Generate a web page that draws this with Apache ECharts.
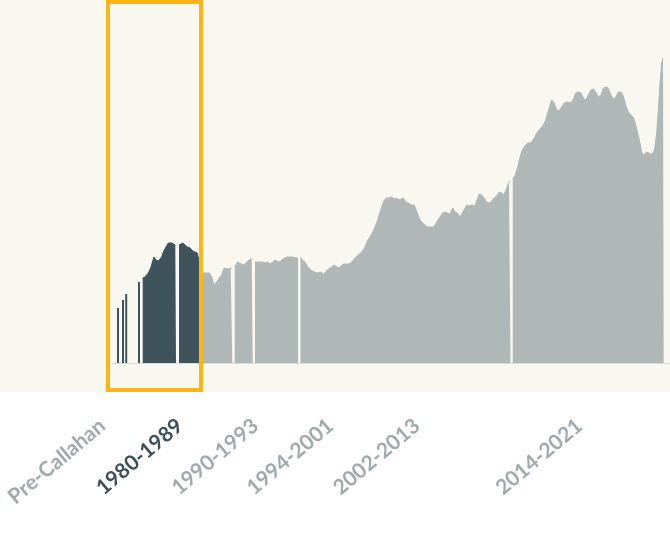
<!DOCTYPE html>
<html>
<head>
<meta charset="utf-8">
<script src="https://cdn.jsdelivr.net/npm/echarts@6/dist/echarts.min.js"></script>
<style>
  html, body { margin: 0; padding: 0; background: #ffffff; }
  #chart { width: 670px; height: 537px; }
</style>
</head>
<body>
<div id="chart"></div>
<script>
// ---- Data (x = position along the timeline, y = value) ----
// Isolated early observations (drawn as thin bars)
const spikeX = [6, 11, 14.2, 27];
const spikeY = [55, 63, 69, 81];

// 1980-1989 era (highlighted); null = gap
const darkX = [30.7, 33, 36.3, 38.7, 40.7, 42, 44, 46.3, 48, 49.7, 51.3, 54, 56.3, 58, 59.7, 61.3, 63.3, 64, null,
  67, 68.7, 70.7, 73, 75.3, 78, 80.7, 83, 85.3, 86.7, 88];
const darkY = [85, 86, 90, 95, 102, 106, 103, 102, 101, 106, 111, 116, 120, 122, 120, 119, 118, 118, null,
  118, 120, 120, 118, 116, 115, 112, 111, 110, 103, 98];

// 1990 onward
const grayX = [89, 91.3, 93, 95.3, 97.5, 99.7, 102, 104.7, 107.3, 109.7, 112, 114, 116.3, 118.7, 120.3, null,
  122.7, 125.3, 127.3, 129.7, 132, 134.7, 137.3, 139.7, 140.7, null,
  143, 145.3, 148, 150.7, 153, 155.3, 158, 160.7, 163, 165.3, 168, 170.7, 173, 175.3, 178, 180.7, 183, 186, null,
  188.5, 190.3, 193, 195.7, 199, 202.3, 205.7, 209, 211.3, 213.7, 216.3, 219.7, 222.3, 224.7, 227, 229.7,
  232.3, 234.7, 237, 239.7, 243, 246.3, 249.7, 253, 255.7, 258, 260.3, 263, 265.7, 268, 270.3, 272.3,
  274.7, 277, 279.7, 282.3, 284.7, 287, 289, 291.3, 293.7, 296.3, 299.7, 302.3, 305.3, 308, 310.7, 314,
  316.3, 319.7, 322, 324.7, 328, 330.7, 333, 335.3, 338, 340.7, 343, 345.3, 348, 349.7, 352, 354.7,
  357.3, 359.7, 363, 365.3, 367.3, 369.7, 372, 374.7, 377.3, 379.7, 382, 384.7, 387.3, 389.7, 392, 394.7,
  397, 398.5, null,
  400.7, 403, 405.7, 408, 410.3, 413, 415.7, 419, 422.3, 424.7, 428, 431.3, 433.7, 435.7, 438, 439.7,
  442.3, 444.7, 447, 449.7, 452.3, 455.7, 459, 461.3, 463.7, 466.3, 469, 471.3, 473.7, 476.3, 479, 481.3,
  483.7, 486.3, 489, 491.3, 494, 496.3, 499, 501.3, 503.7, 506.3, 509, 511.3, 513.7, 516.3, 519, 521.7,
  523.7, 525.7, 528, 529.7, 531.3, 533, 534.7, 536.3, 539, 541.3, 543, 544.7, 546.3, 548, 549.7, 551, 551.7];
const grayY = [90, 90, 89, 90, 90, 86, 78, 81, 85, 88, 95, 93, 94, 95, 95, null,
  96, 101, 101, 99, 98, 101, 103, 104, 104, null,
  101, 101, 101, 101, 100, 101, 99, 101, 103, 102, 101, 104, 105, 106, 106, 106, 105, 105, null,
  106, 103, 101, 96, 93, 91, 90, 91, 89, 91, 94, 96, 98, 96, 95, 98,
  99, 99, 99, 101, 105, 108, 111, 116, 123, 126, 130, 136, 143, 151, 158, 163,
  165, 165, 166, 164, 165, 163, 165, 165, 161, 160, 158, 158, 150, 143, 140, 137,
  136, 136, 136, 141, 146, 150, 151, 150, 149, 155, 151, 150, 146, 145, 153, 158,
  157, 158, 157, 164, 169, 168, 165, 161, 160, 162, 165, 167, 171, 170, 168, 175,
  181, 182, null,
  185, 187, 196, 206, 213, 217, 220, 220, 225, 230, 234, 238, 243, 250, 258, 263,
  260, 253, 252, 256, 260, 261, 260, 264, 270, 271, 270, 265, 263, 268, 273, 274,
  271, 266, 268, 275, 276, 275, 268, 264, 266, 271, 271, 267, 258, 251, 248, 245,
  238, 230, 220, 211, 208, 208, 211, 210, 209, 210, 216, 230, 253, 280, 300, 305, 305];

// Era tick labels and their positions on the same timeline
const eraLabels = ['Pre-Callahan', '1980-1989', '1990-1993', '1994-2001', '2002-2013', '2014-2021'];
const eraPos = [-9.5, 68, 143.5, 218.5, 305, 467.5];
const highlightedEra = '1980-1989';

// ---- Chart ----
const toPairs = (xs, ys) => xs.map((x, i) => (x === null || ys[i] === null) ? [null, null] : [x, ys[i]]);
const DARK = '#3f535c', GRAY = '#b0b8b7';

const chart = echarts.init(document.getElementById('chart'), null, { renderer: 'canvas' });
chart.setOption({
  animation: false,
  backgroundColor: '#ffffff',
  graphic: [
    { type: 'rect', z: -100, silent: true, shape: { x: 0, y: 0, width: 670, height: 392 }, style: { fill: '#f8f7f0' } },
    { type: 'rect', z: 100, silent: true, shape: { x: 108, y: 2, width: 93, height: 388 }, style: { fill: 'none', stroke: '#fdb515', lineWidth: 4 } }
  ],
  grid: [
    { left: 112, right: 0, top: 3, bottom: 174 },
    { left: 0, right: 0, top: 3, bottom: 174 }
  ],
  xAxis: [
    { type: 'value', gridIndex: 0, min: 0, max: 558,
      axisLine: { show: true, lineStyle: { color: '#dcdbd3', width: 1 } },
      axisTick: { show: false }, axisLabel: { show: false }, splitLine: { show: false } },
    { type: 'value', gridIndex: 1, min: -112, max: 558,
      axisLine: { show: false }, axisTick: { show: false }, splitLine: { show: false },
      axisLabel: {
        customValues: eraPos,
        rotate: 40,
        margin: 60,
        fontFamily: 'Lato',
        fontSize: 21,
        fontWeight: 'bold',
        color: '#a0aaae',
        formatter: function (v) {
          let idx = -1, best = 1e9;
          eraPos.forEach((p, i) => { const d = Math.abs(p - v); if (d < best) { best = d; idx = i; } });
          const name = eraLabels[idx];
          return name === highlightedEra ? '{hl|' + name + '}' : name;
        },
        rich: { hl: { color: '#3c4f58', fontWeight: 'bold', fontFamily: 'Lato', fontSize: 21 } }
      } }
  ],
  yAxis: [
    { type: 'value', gridIndex: 0, min: 0, max: 360, show: false },
    { type: 'value', gridIndex: 1, min: 0, max: 360, show: false }
  ],
  series: [
    { type: 'line', xAxisIndex: 0, yAxisIndex: 0, data: toPairs(grayX, grayY),
      showSymbol: false, connectNulls: false, smooth: false,
      lineStyle: { color: GRAY, width: 1 },
      areaStyle: { color: GRAY, opacity: 1 } },
    { type: 'line', xAxisIndex: 0, yAxisIndex: 0, data: toPairs(darkX, darkY),
      showSymbol: false, connectNulls: false, smooth: false,
      lineStyle: { color: DARK, width: 1 },
      areaStyle: { color: DARK, opacity: 1 } },
    { type: 'bar', xAxisIndex: 0, yAxisIndex: 0, data: toPairs(spikeX, spikeY),
      barWidth: 2, itemStyle: { color: DARK } }
  ]
});
</script>
</body>
</html>
